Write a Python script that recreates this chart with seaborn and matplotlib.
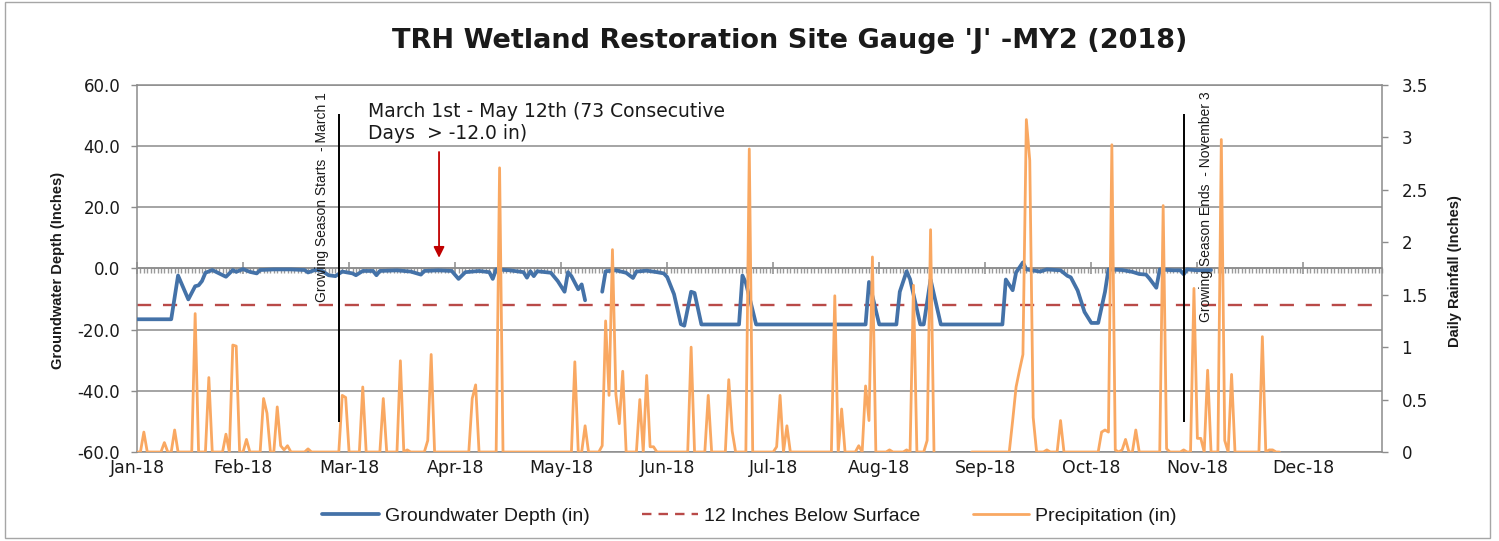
"""TRH wetland gauge J - groundwater depth vs daily rainfall, 2018."""

import matplotlib
matplotlib.use("Agg")
import matplotlib.pyplot as plt
from matplotlib.lines import Line2D
from matplotlib.patches import Rectangle
import numpy as np
import pandas as pd
import seaborn as sns

BLUE   = "#4472A8"
RED    = "#B94A48"
ORANGE = "#F9A862"
GRID   = "#8C8C8C"
TEXT   = "#1A1A1A"

# x axis is a day index (0 = Jan 1); Excel labels every 31 days
MONTHS    = ["Jan-18", "Feb-18", "Mar-18", "Apr-18", "May-18", "Jun-18",
             "Jul-18", "Aug-18", "Sep-18", "Oct-18", "Nov-18", "Dec-18"]
TICK_DAYS = [0, 31, 62, 93, 124, 155, 186, 217, 248, 279, 310, 341]
N_DAYS    = 365

# groundwater depth (in); gauge offline days 132-135
GW_DAY = [0, 10, 12, 15, 17, 18, 19, 20, 22, 26, 28, 29, 31, 33, 35, 36, 40,
          45, 49, 50, 52, 54, 56, 58, 60, 63, 64, 66, 69, 70, 71, 76, 80, 83,
          84, 88, 92, 94, 96, 100, 103, 104, 105, 109, 113, 114, 115, 116,
          117, 121, 123, 125, 126, 127, 129, 130, 131,
          136, 137, 140, 143, 145, 146, 149, 152, 154, 155, 157, 159, 160,
          162, 163, 165, 176, 177, 178, 181, 213, 214, 215, 217, 222, 223,
          225, 226, 229, 230, 232, 233, 235, 253, 254, 256, 257, 259, 260,
          264, 266, 270, 272, 273, 275, 277, 279, 281, 283, 284, 288, 291,
          293, 295, 296, 298, 299, 303, 305, 306, 307, 310, 314]
GW_VAL = [-16.6, -16.6, -2.3, -10.1, -5.8, -5.5, -4.1, -1.4, -0.5, -2.7, -0.5,
          -1.1, -0.2, -1.1, -1.6, -0.5, -0.3, -0.3, -0.5, -1.3, -0.5, -0.7,
          -2.2, -2.5, -1.0, -1.6, -2.2, -0.8, -0.8, -2.2, -0.8, -0.6, -1.0,
          -2.0, -0.8, -0.6, -0.8, -3.4, -1.2, -0.8, -1.2, -3.4, -0.3, -0.6,
          -1.2, -3.0, -0.9, -2.5, -0.9, -1.4, -4.1, -7.6, -1.2, -2.5, -6.8,
          -5.2, -10.4,
          -7.6, -0.9, -0.6, -1.4, -3.1, -1.0, -0.7, -1.2, -1.6, -2.8, -8.4,
          -18.2, -18.7, -7.6, -8.0, -18.3, -18.3, -2.3, -4.7, -18.3, -18.3,
          -4.4, -9.0, -18.3, -18.3, -7.6, -0.9, -3.5, -18.3, -18.3, -3.6,
          -8.5, -18.3, -18.3, -3.6, -7.1, -1.3, 2.0, -0.3, -1.0, -0.3, -0.6,
          -2.4, -2.9, -7.2, -14.2, -17.8, -17.8, -7.6, -0.3, -0.5, -1.1,
          -1.8, -2.0, -3.3, -6.3, -0.3, -0.6, -0.6, -1.9, -0.3, -0.6, -0.5]
GW_GAP_AFTER = 131

# daily rainfall (in): only the wet days are listed, the rest are 0
RAIN_DAY = [2, 8, 11, 17, 21, 26, 28, 29, 32, 37, 38, 41, 42, 43, 44, 50, 60,
            61, 66, 72, 77, 79, 85, 86, 98, 99, 106, 128, 131, 136, 137, 138,
            139, 140, 141, 142, 147, 149, 150, 151, 162, 167, 173, 174, 179,
            187, 188, 190, 204, 206, 211, 213, 214, 215, 220, 225, 227, 231,
            232, 256, 257, 258, 259, 260, 261, 262, 266, 270, 282, 283, 284,
            285, 286, 288, 289, 292, 300, 301, 306, 309, 310, 311, 313, 317,
            318, 320, 329, 331, 332]
RAIN_VAL = [0.19, 0.09, 0.21, 1.32, 0.71, 0.17, 1.02, 1.01, 0.12, 0.51, 0.37,
            0.43, 0.06, 0.02, 0.06, 0.03, 0.54, 0.52, 0.62, 0.51, 0.87, 0.02,
            0.11, 0.93, 0.51, 0.64, 2.71, 0.86, 0.25, 0.06, 1.25, 0.54, 1.93,
            0.55, 0.27, 0.77, 0.50, 0.73, 0.05, 0.05, 1.00, 0.54, 0.69, 0.20,
            2.89, 0.05, 0.54, 0.25, 1.49, 0.41, 0.06, 0.63, 0.30, 1.86, 0.02,
            0.02, 1.59, 0.11, 2.12, 0.30, 0.62, 0.78, 0.93, 3.17, 2.78, 0.33,
            0.02, 0.30, 0.19, 0.21, 0.19, 2.93, 0.02, 0.02, 0.12, 0.21, 2.35,
            0.03, 0.02, 1.56, 0.13, 0.13, 0.78, 2.98, 0.11, 0.74, 1.10, 0.02,
            0.02]
RAIN_LAST_DAY = 334
RAIN_GAP = (234, 243)

THRESHOLD    = -12.0
SEASON_START = 59     # March 1
SEASON_END   = 306    # November 3

# ── frames ─────────────────────────────────────────────────────────────
gw = pd.DataFrame({"day": GW_DAY, "depth": GW_VAL})
gw["seg"] = (gw["day"] > GW_GAP_AFTER).astype(int)

wet = dict(zip(RAIN_DAY, RAIN_VAL))
days = np.arange(0, RAIN_LAST_DAY + 1)
days = days[(days < RAIN_GAP[0]) | (days > RAIN_GAP[1])]
rain = pd.DataFrame({"day": days, "rain": [wet.get(d, 0.0) for d in days]})
rain["seg"] = (rain["day"] > RAIN_GAP[1]).astype(int)

# ── style ──────────────────────────────────────────────────────────────
sns.set_theme(style="white")
plt.rcParams["font.family"] = ["DejaVu Sans"]
plt.rcParams["text.color"] = TEXT
SANS = ["Liberation Sans", "DejaVu Sans"]

fig = plt.figure(figsize=(14.99, 5.41), dpi=100, facecolor="white")
ax = fig.add_axes([0.0914, 0.1645, 0.8306, 0.6784])
ax2 = ax.twinx()

sns.lineplot(data=gw, x="day", y="depth", units="seg", estimator=None,
             ax=ax, color=BLUE, linewidth=2.7, zorder=3)
ax.axhline(THRESHOLD, color=RED, linewidth=1.7, dashes=(6, 5), zorder=2)
sns.lineplot(data=rain, x="day", y="rain", units="seg", estimator=None,
             ax=ax2, color=ORANGE, linewidth=2.0, zorder=3)

# left axis
ax.set_xlim(0, N_DAYS - 1)
ax.set_ylim(-60, 60)
ax.set_yticks(np.arange(-60, 61, 20))
ax.set_yticklabels([f"{v:.1f}" for v in np.arange(-60, 61, 20)])
ax.set_xticks(TICK_DAYS)
ax.set_xticklabels(MONTHS)
ax.set_xlabel("")
ax.set_ylabel("")
ax.yaxis.grid(True, color=GRID, linewidth=1.1)
ax.set_axisbelow(True)
ax.tick_params(axis="x", length=0, pad=5, labelsize=12.5, colors=TEXT)
ax.tick_params(axis="y", length=4, width=1, color=GRID, direction="out",
               pad=8, labelsize=12, labelcolor=TEXT)
for spine in ax.spines.values():
    spine.set_color(GRID)
    spine.set_linewidth(1.1)

# right axis
ax2.set_ylim(0, 3.5)
ax2.set_yticks(np.arange(0, 3.51, 0.5))
ax2.set_yticklabels(["0", "0.5", "1", "1.5", "2", "2.5", "3", "3.5"])
ax2.set_ylabel("")
ax2.tick_params(axis="y", length=4, width=1, color=GRID, direction="out",
                pad=10, labelsize=12, labelcolor=TEXT)
for spine in ax2.spines.values():
    spine.set_visible(False)

# horizontal (category) axis crossing at 0 with daily minor ticks
zero_ax = ax.secondary_xaxis(0.5)
zero_ax.set_xticks(TICK_DAYS)
zero_ax.set_xticks(np.arange(0, N_DAYS), minor=True)
zero_ax.set_xticklabels([])
zero_ax.tick_params(which="both", labeltop=False, labelbottom=False)
zero_ax.tick_params(which="major", direction="inout", length=9, width=1.1,
                    color=GRID)
zero_ax.tick_params(which="minor", direction="in", length=3.5, width=1.0,
                    color="#9A9A9A")
for spine in zero_ax.spines.values():
    spine.set_color(GRID)
    spine.set_linewidth(1.1)

# growing-season markers and notes
ax2.vlines([SEASON_START, SEASON_END], 0.29, 3.22, color="black",
           linewidth=1.4, zorder=5)
ax2.text(54, 57.5, "Growing Season Starts  - March 1", transform=ax.transData,
         rotation=90, ha="center", va="top", fontsize=10, family=SANS,
         zorder=6)
ax2.text(312.6, 58.0, "Growing Season Ends  - November 3",
         transform=ax.transData, rotation=90, ha="center", va="top",
         fontsize=10, family=SANS, zorder=6)
ax.text(67.5, 54.6, "March 1st - May 12th (73 Consecutive\nDays  > -12.0 in)",
        ha="left", va="top", fontsize=13.5, linespacing=1.22)
ax.annotate("", xy=(88.3, 2.6), xytext=(88.3, 39.0),
            arrowprops=dict(arrowstyle="-|>", color="#C00000", linewidth=1.3,
                            mutation_scale=16), zorder=6)

# titles and axis names
fig.text(0.527, 0.924, "TRH Wetland Restoration Site Gauge 'J' -MY2 (2018)",
         ha="center", va="center", fontsize=19.5, fontweight="bold")
fig.text(0.0387, 0.501, "Groundwater Depth (Inches)", rotation=90,
         ha="center", va="center", fontsize=10.5, fontweight="bold",
         family=SANS)
fig.text(0.9706, 0.499, "Daily Rainfall (Inches)", rotation=90,
         ha="center", va="center", fontsize=10.5, fontweight="bold",
         family=SANS)

handles = [
    Line2D([], [], color=BLUE, linewidth=2.7),
    Line2D([], [], color=RED, linewidth=1.7, dashes=(4, 3)),
    Line2D([], [], color=ORANGE, linewidth=2.0),
]
labels = ["Groundwater Depth (in)", "12 Inches Below Surface",
          "Precipitation (in)"]
fig.legend(handles, labels, loc="center", bbox_to_anchor=(0.5, 0.046),
           ncol=3, frameon=False, handlelength=2.9, handletextpad=0.3,
           columnspacing=2.7, prop={"family": SANS, "size": 14})

# chart-area border
fig.patches.append(Rectangle((0.0035, 0.006), 0.9905, 0.99, fill=False,
                             edgecolor="#A6A6A6", linewidth=1.0,
                             transform=fig.transFigure))

fig.savefig("out.png", dpi=100, facecolor="white")
plt.close(fig)
